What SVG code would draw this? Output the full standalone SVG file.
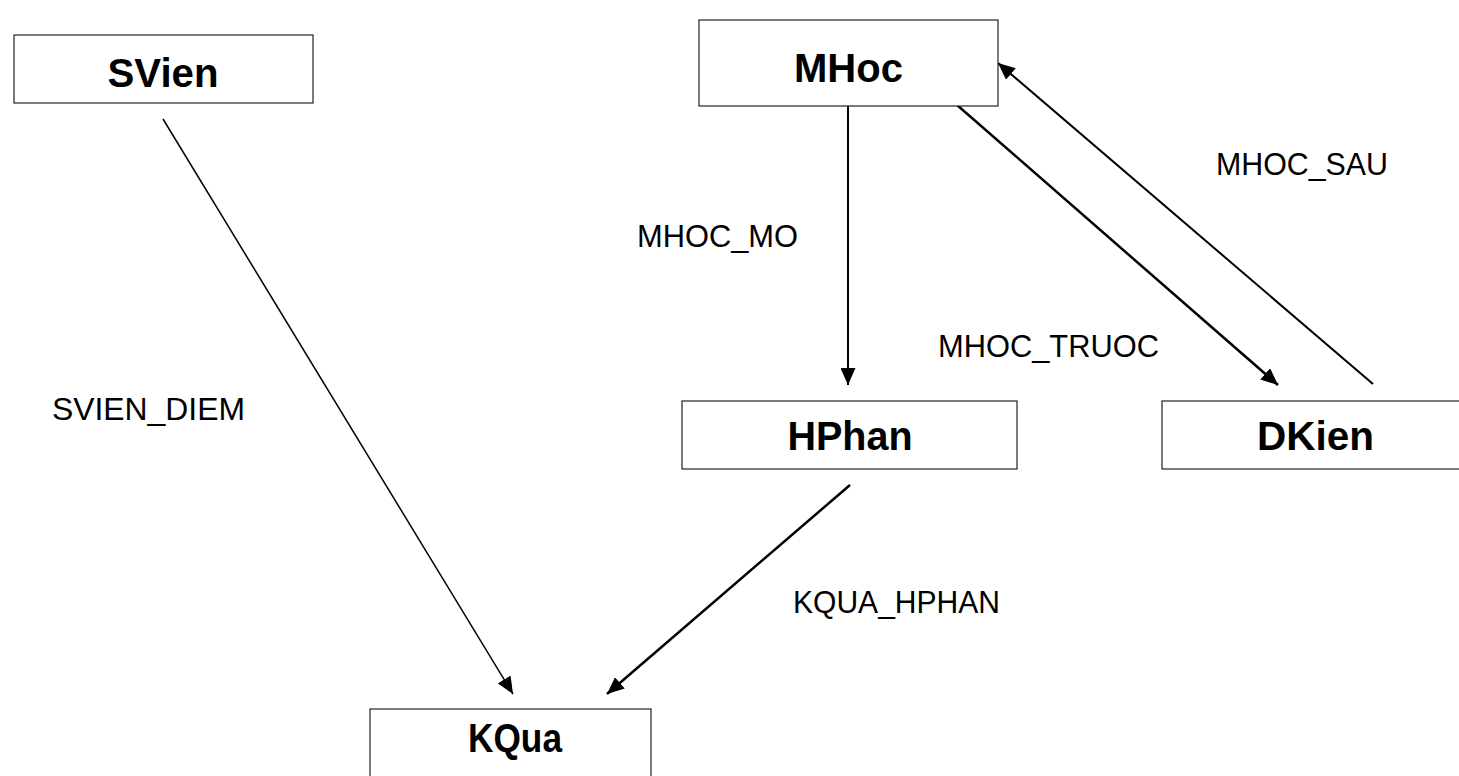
<svg xmlns="http://www.w3.org/2000/svg" width="1459" height="776" viewBox="0 0 1459 776">
<defs>
<marker id="ah" viewBox="0 0 10 10" refX="10" refY="5" markerWidth="17" markerHeight="15" markerUnits="userSpaceOnUse" orient="auto" preserveAspectRatio="none">
<path d="M0,0 L10,5 L0,10 z" fill="#000"/>
</marker>
<style>
.box{fill:#fff;stroke:#222;stroke-width:1.2}
.nt{font-family:"Liberation Sans",Arial,sans-serif;font-weight:bold;font-size:41px;fill:#000;text-anchor:middle}
.lb{font-family:"Liberation Sans",Arial,sans-serif;font-size:32px;fill:#000}
.c{stroke:#000;fill:none;stroke-width:2}
</style>
</defs>
<rect width="1459" height="776" fill="#fff"/>
<g id="connectors">
<line class="c" x1="163" y1="119" x2="513" y2="694" marker-end="url(#ah)" style="stroke-width:1.5"/>
<line class="c" x1="850" y1="485" x2="607" y2="694" style="stroke-width:2.5" marker-end="url(#ah)"/>
<line class="c" x1="848" y1="106" x2="848" y2="385" marker-end="url(#ah)"/>
<line class="c" x1="957" y1="105" x2="1278" y2="385" style="stroke-width:2.5" marker-end="url(#ah)"/>
<line class="c" x1="1373" y1="384" x2="998" y2="63" marker-end="url(#ah)"/>
<text class="lb" x="637" y="247" textLength="161" lengthAdjust="spacingAndGlyphs">MHOC_MO</text>
<text class="lb" x="938" y="357" textLength="221" lengthAdjust="spacingAndGlyphs">MHOC_TRUOC</text>
<text class="lb" x="52" y="420" textLength="193" lengthAdjust="spacingAndGlyphs">SVIEN_DIEM</text>
<text class="lb" x="793" y="613" textLength="207" lengthAdjust="spacingAndGlyphs">KQUA_HPHAN</text>
<text class="lb" x="1216" y="175" textLength="172" lengthAdjust="spacingAndGlyphs">MHOC_SAU</text>
</g>
<g id="SVien"><rect class="box" x="14" y="35" width="299" height="68"/><text class="nt" x="163" y="87" textLength="111" lengthAdjust="spacingAndGlyphs">SVien</text></g>
<g id="MHoc"><rect class="box" x="699" y="20" width="299" height="86"/><text class="nt" x="848.5" y="82" textLength="109" lengthAdjust="spacingAndGlyphs">MHoc</text></g>
<g id="HPhan"><rect class="box" x="682" y="401" width="335" height="68"/><text class="nt" x="850" y="450" textLength="125" lengthAdjust="spacingAndGlyphs">HPhan</text></g>
<g id="DKien"><rect class="box" x="1162" y="401" width="307" height="68"/><text class="nt" x="1315.5" y="450" textLength="117" lengthAdjust="spacingAndGlyphs">DKien</text></g>
<g id="KQua"><rect class="box" x="370" y="709" width="281" height="70"/><text class="nt" x="515" y="752" textLength="94" lengthAdjust="spacingAndGlyphs">KQua</text></g>
</svg>
